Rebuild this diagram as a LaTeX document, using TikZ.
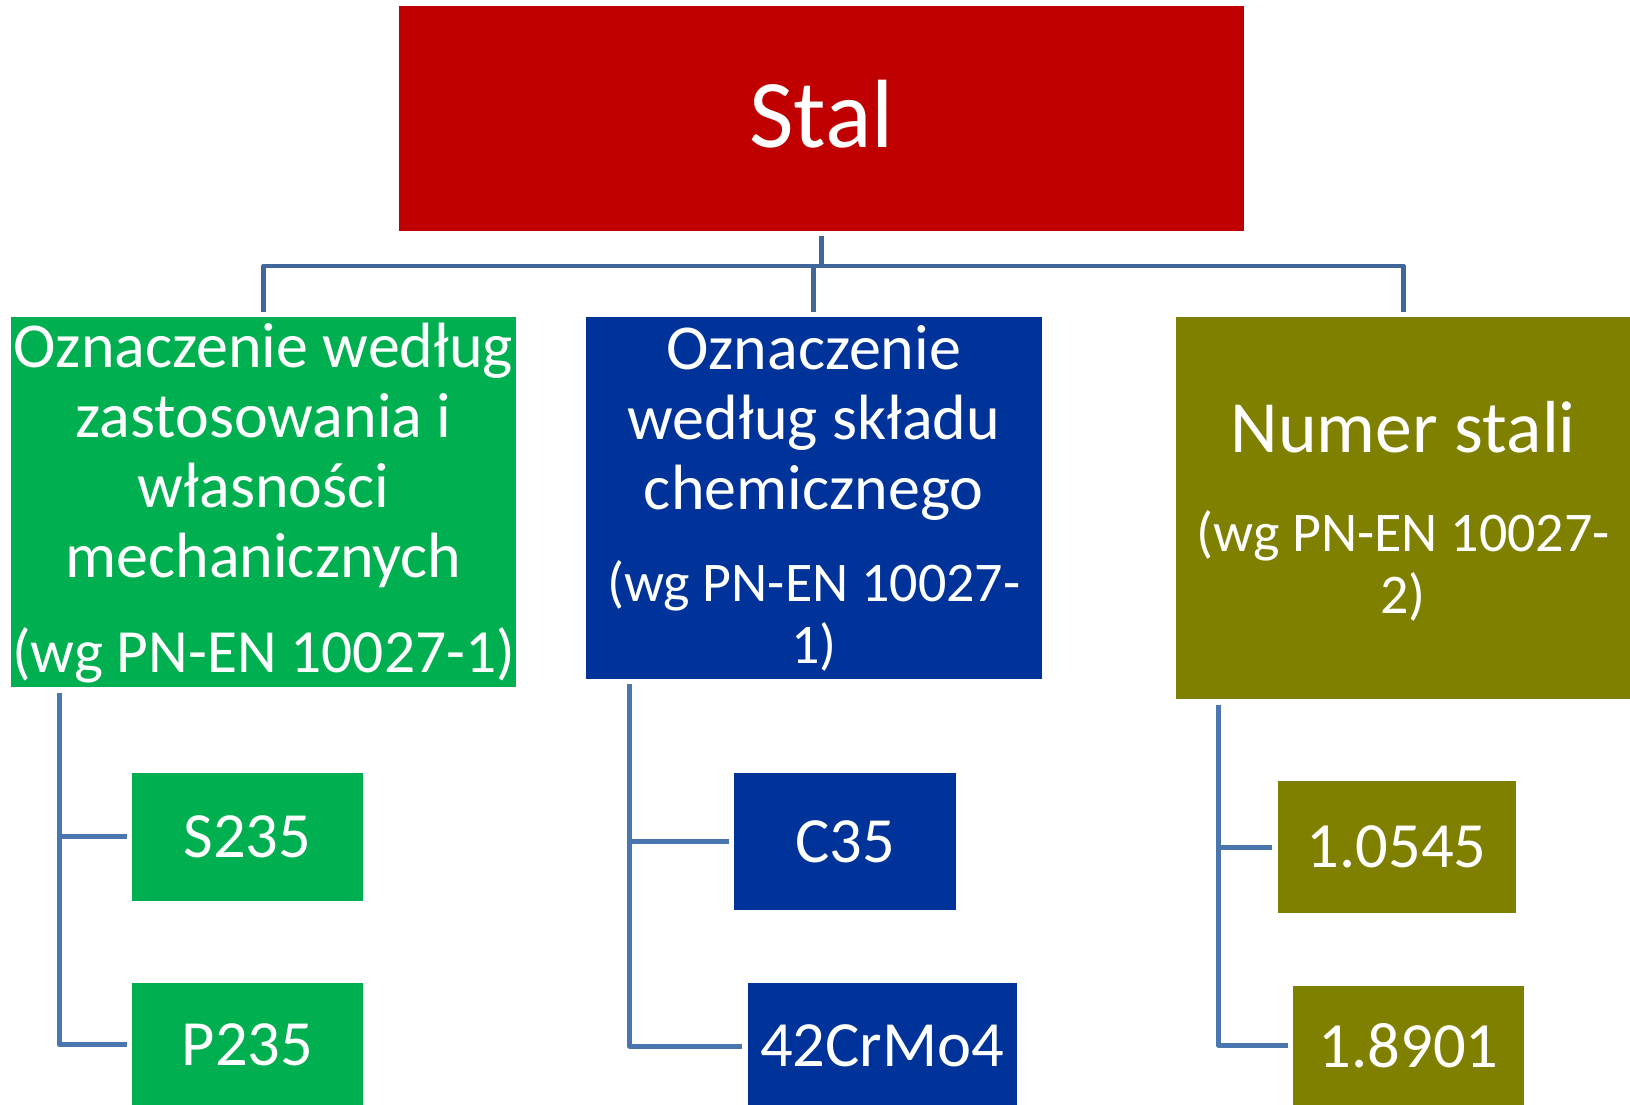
\documentclass[tikz,border=0pt]{standalone}
\usepackage{fontspec}
\setmainfont{Carlito}
\definecolor{stalred}{RGB}{192,0,0}
\definecolor{grpgreen}{RGB}{0,176,80}
\definecolor{grpblue}{RGB}{0,51,153}
\definecolor{grpolive}{RGB}{128,128,0}
\definecolor{toplinkc}{RGB}{65,103,154}
\definecolor{leaflinkc}{RGB}{74,118,176}
\begin{document}
\begin{tikzpicture}[x=1pt,y=-1pt,
  box/.style={rectangle, inner sep=0pt, outer sep=0pt, text=white},
  boxtext/.style={text=white, align=center, anchor=base, inner sep=0pt},
  toplink/.style={draw=toplinkc, line width=4.8pt, line join=round},
  leaflink/.style={draw=leaflinkc, line width=5pt, line join=round},
  leaffont/.style={font=\fontsize{64.5}{70}\selectfont},
  titlefont/.style={font=\fontsize{64}{70.2}\selectfont},
  normfont/.style={font=\fontsize{56}{62}\selectfont},
]
\useasboundingbox (0,0) rectangle (1630,1104);

% root
\node[box, fill=stalred, minimum width=845pt, minimum height=225pt, text depth=8pt,
      font=\fontsize{97}{100}\selectfont] (stal) at (821.5,118) {Stal};

% three groups
\node[box, fill=grpgreen, minimum width=504.2pt, minimum height=370.5pt] (green) at (263.5,502.05) {};
\node[box, fill=grpblue, minimum width=455.5pt, minimum height=361.8pt] (blue) at (813.75,497.7) {};
\node[box, fill=grpolive, minimum width=455pt, minimum height=382.2pt] (olive) at (1403.2,507.9) {};

% group captions (anchored at the baseline of their last line)
\node[boxtext, titlefont] (gtitle) at (263.5,577.6)
  {Oznaczenie według\\zastosowania i\\własności\\mechanicznych};
\node[boxtext, font=\fontsize{61.4}{62}\selectfont] (gnorm) at (263.5,672.6) {(wg PN-EN 10027-1)};

\node[boxtext, titlefont] (btitle) at (813.75,509.6)
  {Oznaczenie\\według składu\\chemicznego};
\node[boxtext, normfont] (bnorm) at (813.75,663.4) {(wg PN-EN 10027-\\1)};

\node[boxtext, font=\fontsize{73.7}{80}\selectfont] (otitle) at (1403.2,452.3) {Numer stali};
\node[boxtext, normfont] (onorm) at (1403.2,613) {(wg PN-EN 10027-\\2)};

% examples
\node[box, fill=grpgreen, leaffont, minimum width=230.8pt, minimum height=128.3pt] (s235) at (247.4,836.85) {S235};
\node[box, fill=grpgreen, leaffont, minimum width=230.8pt, minimum height=122.4pt] (p235) at (247.4,1044.5) {P235};
\node[box, fill=grpblue, leaffont, minimum width=222.4pt, minimum height=137.3pt] (c35) at (845.2,841.35) {C35};
\node[box, fill=grpblue, leaffont, minimum width=269.2pt, minimum height=126pt] (crmo) at (882.1,1046) {42CrMo4};
\node[box, fill=grpolive, leaffont, minimum width=238.1pt, minimum height=132.3pt] (n1) at (1396.65,847.15) {1.0545};
\node[box, fill=grpolive, leaffont, minimum width=231pt, minimum height=119.3pt] (n2) at (1408.5,1045.35) {1.8901};

% root to groups
\coordinate (bar) at (0,266);
\draw[toplink] ([yshift=-5.5pt]stal.south) -- (stal.south |- bar);
\draw[toplink] ([yshift=5pt]green.north) -- (green.north |- bar) -- (olive.north |- bar) -- ([yshift=5pt]olive.north);
\draw[toplink] ([yshift=5pt]blue.north) -- (blue.north |- bar);

% groups to examples
\coordinate (gtrunk) at (59.3,0);
\coordinate (btrunk) at (629.3,0);
\coordinate (otrunk) at (1218.5,0);
\coordinate (gdrop) at ([yshift=-5.4pt]green.south);
\coordinate (bdrop) at ([yshift=-5.4pt]blue.south);
\coordinate (odrop) at ([yshift=-6pt]olive.south);

\draw[leaflink] (gdrop -| gtrunk) |- ([xshift=-5.5pt]p235.west);
\draw[leaflink] (s235.west -| gtrunk) -- ([xshift=-5.5pt]s235.west);

\draw[leaflink] (bdrop -| btrunk) |- ([xshift=-5.5pt]crmo.west);
\draw[leaflink] (c35.west -| btrunk) -- ([xshift=-5.5pt]c35.west);

\draw[leaflink] (odrop -| otrunk) |- ([xshift=-5.5pt]n2.west);
\draw[leaflink] (n1.west -| otrunk) -- ([xshift=-5.5pt]n1.west);
\end{tikzpicture}
\end{document}
